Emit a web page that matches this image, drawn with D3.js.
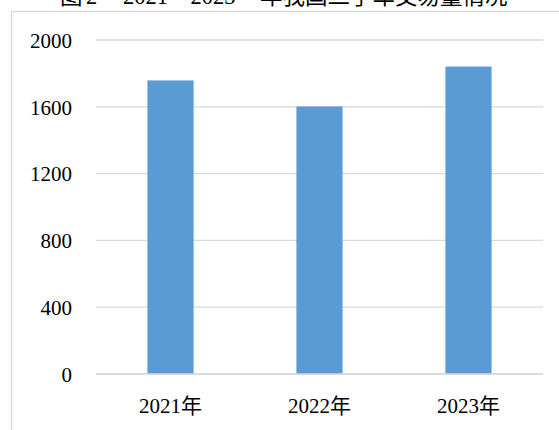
<!DOCTYPE html>
<html>
<head>
<meta charset="utf-8">
<script src="https://cdn.jsdelivr.net/npm/d3@7"></script>
<style>
  body { margin: 0; background: #fff; }
</style>
</head>
<body>
<div id="draw"></div>
<script>
// data
var years = ['2021年', '2022年', '2023年'];
var volumes = [1758, 1602, 1841];
var yTicks = [0, 400, 800, 1200, 1600, 2000];
var titleParts = ['图', '2', '2021—2023', '年我国二手车交易量情况'];

var FONT = '"Liberation Serif", "Times New Roman", "Noto Sans CJK SC", serif';
var W = 559, H = 430;
// plot area (note: "top" is reserved on window, so use own names)
var pLeft = 96, pRight = 543, pTop = 40, pBottom = 374;

var svg = d3.select('#draw').append('svg')
  .attr('width', W).attr('height', H);

// chart frame
svg.append('rect')
  .attr('x', 11.5).attr('y', 11.5)
  .attr('width', 600).attr('height', 500)
  .attr('fill', 'none')
  .attr('stroke', '#d9d9d9')
  .attr('stroke-width', 1.5);

// title (cut off at the top in the original)
var titlePos = [60, 86, 123, 260];
var t = svg.append('text')
  .attr('y', 4)
  .style('font-family', FONT)
  .style('font-size', '22.5px')
  .attr('fill', '#000');
t.selectAll('tspan')
  .data(titleParts)
  .enter().append('tspan')
  .attr('x', function(d, i) { return titlePos[i]; })
  .text(function(d) { return d; });

var x = d3.scaleBand().domain(years).range([pLeft, pRight]).paddingInner(0.69).paddingOuter(0.345);
var y = d3.scaleLinear().domain([0, 2000]).range([pBottom, pTop]);

// gridlines
svg.append('g').selectAll('line')
  .data(yTicks)
  .enter().append('line')
  .attr('x1', pLeft).attr('x2', pRight)
  .attr('y1', function(d) { return y(d); })
  .attr('y2', function(d) { return y(d); })
  .attr('stroke', '#d9d9d9')
  .attr('stroke-width', 1.3);

// y labels
var yAxis = d3.axisLeft(y).tickValues(yTicks).tickSize(0).tickPadding(0).tickFormat(d3.format('d'));
var gy = svg.append('g').attr('transform', 'translate(72,0)').call(yAxis);
gy.select('.domain').remove();
gy.selectAll('text')
  .style('font-family', FONT)
  .style('font-size', '21px')
  .attr('fill', '#000')
  .attr('dy', '0.35em');

// bars
svg.append('g').selectAll('rect')
  .data(volumes)
  .enter().append('rect')
  .attr('x', function(d, i) { return x(years[i]); })
  .attr('y', function(d) { return y(d); })
  .attr('width', x.bandwidth())
  .attr('height', function(d) { return y(0) - y(d); })
  .attr('fill', '#5b9bd5');

// baseline axis line
svg.append('line')
  .attr('x1', pLeft).attr('x2', pRight)
  .attr('y1', y(0)).attr('y2', y(0))
  .attr('stroke', '#d9d9d9')
  .attr('stroke-width', 1.5);

// x labels
var xAxis = d3.axisBottom(x).tickSize(0).tickPadding(0);
var gx = svg.append('g').attr('transform', 'translate(0,' + (pBottom + 39) + ')').call(xAxis);
gx.select('.domain').remove();
gx.selectAll('text')
  .style('font-family', FONT)
  .style('font-size', '21px')
  .attr('fill', '#000')
  .attr('dy', 0);
</script>
</body>
</html>
